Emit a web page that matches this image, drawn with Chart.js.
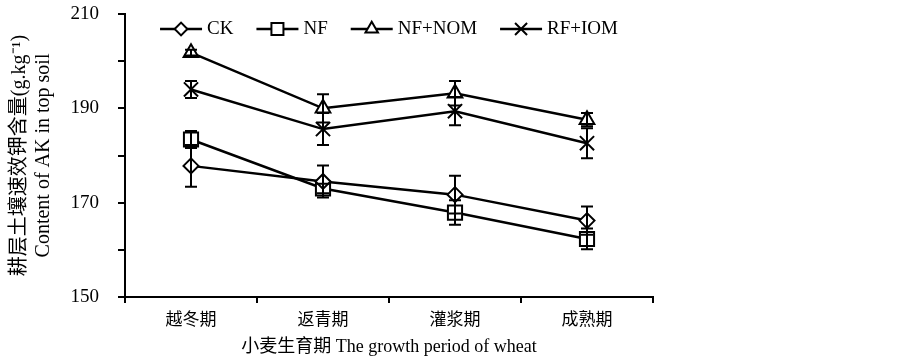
<!DOCTYPE html>
<html>
<head>
<meta charset="utf-8">
<script src="https://cdn.jsdelivr.net/npm/chart.js"></script>
<style>
    html, body { margin: 0; padding: 0; background: #fff; }
    #wrap { width: 903px; height: 362px; position: relative; }
</style>
</head>
<body>
<div id="wrap"><canvas id="akChart"></canvas></div>
<script>
// Growth stages of wheat (x categories)
const stages = ['越冬期', '返青期', '灌浆期', '成熟期'];

// Series values (g.kg-1) and their error bars
const ckValues = [177.8, 174.5, 171.7, 166.2];
const ckErrors = [4.4, 3.4, 4.0, 3.0];
const nfValues = [183.4, 173.0, 167.9, 162.3];
const nfErrors = [1.8, 1.0, 2.6, 2.2];
const nfNomValues = [201.8, 190.0, 193.2, 187.6];
const nfNomErrors = [0.6, 3.0, 2.6, 1.4];
const rfIomValues = [194.0, 185.6, 189.4, 182.6];
const rfIomErrors = [1.8, 3.4, 3.0, 3.2];

// Y axis: ticks every 10, labels only on these
const yLabelTicks = [150, 170, 190, 210];

const serif = "'Liberation Serif', 'Noto Sans CJK SC', serif";

// Build a dataset with the common black line look
function makeSeries(label, values, errors, style, radius) {
    return {
        label: label,
        data: values,
        errors: errors,
        borderColor: '#000',
        borderWidth: 2.5,
        pointStyle: style,
        pointRadius: radius,
        pointHoverRadius: radius,
        pointBorderWidth: 2,
        pointBorderColor: '#000',
        pointBackgroundColor: '#fff',
        tension: 0,
        fill: false
    };
}

// Error bars, drawn through the scales
const errorBars = {
    id: 'errorBars',
    afterDatasetsDraw(chart) {
        const ctx = chart.ctx;
        const yScale = chart.scales.y;
        ctx.save();
        ctx.strokeStyle = '#000';
        ctx.lineWidth = 2;
        chart.data.datasets.forEach((ds, i) => {
            const meta = chart.getDatasetMeta(i);
            meta.data.forEach((pt, j) => {
                const err = ds.errors[j];
                const top = yScale.getPixelForValue(ds.data[j] + err);
                const bottom = yScale.getPixelForValue(ds.data[j] - err);
                const cap = 6;
                ctx.beginPath();
                ctx.moveTo(pt.x, top);
                ctx.lineTo(pt.x, bottom);
                ctx.moveTo(pt.x - cap, top);
                ctx.lineTo(pt.x + cap, top);
                ctx.moveTo(pt.x - cap, bottom);
                ctx.lineTo(pt.x + cap, bottom);
                ctx.stroke();
            });
        });
        ctx.restore();
    }
};

// Legend inside the plot area: short line with marker, then the name
const insideLegend = {
    id: 'insideLegend',
    afterDraw(chart) {
        const ctx = chart.ctx;
        const area = chart.chartArea;
        const lineLen = 42;
        const gap = 5;
        const itemGap = 23;
        const y = area.top + 15;
        ctx.save();
        ctx.font = '19px ' + serif;
        ctx.textBaseline = 'middle';
        ctx.fillStyle = '#000';

        // total width to center the row on the plot area
        let total = 0;
        chart.data.datasets.forEach((ds, i) => {
            total += lineLen + gap + ctx.measureText(ds.label).width;
            if (i > 0) total += itemGap;
        });
        let x = (area.left + area.right) / 2 - total / 2;

        chart.data.datasets.forEach(ds => {
            ctx.strokeStyle = '#000';
            ctx.lineWidth = 2.5;
            ctx.beginPath();
            ctx.moveTo(x, y);
            ctx.lineTo(x + lineLen, y);
            ctx.stroke();

            ctx.fillStyle = '#fff';
            ctx.lineWidth = 2;
            Chart.helpers.drawPoint(ctx, {
                pointStyle: ds.pointStyle,
                radius: ds.pointRadius * 0.85,
                rotation: 0,
                borderWidth: 2
            }, x + lineLen / 2, y);

            ctx.fillStyle = '#000';
            ctx.fillText(ds.label, x + lineLen + gap, y);
            x += lineLen + gap + ctx.measureText(ds.label).width + itemGap;
        });
        ctx.restore();
    }
};

function initializeAkChart() {
    const ctx = document.getElementById('akChart');
    if (!ctx) return;

    new Chart(ctx, {
        type: 'line',
        data: {
            labels: stages,
            datasets: [
                makeSeries('CK', ckValues, ckErrors, 'rectRot', 7.5),
                makeSeries('NF', nfValues, nfErrors, 'rect', 10),
                makeSeries('NF+NOM', nfNomValues, nfNomErrors, 'triangle', 8.5),
                makeSeries('RF+IOM', rfIomValues, rfIomErrors, 'crossRot', 10)
            ]
        },
        options: {
            responsive: true,
            maintainAspectRatio: false,
            animation: false,
            layout: {
                padding: { left: 0, right: 250, top: 14, bottom: 0 }
            },
            plugins: {
                legend: { display: false },
                tooltip: { enabled: false }
            },
            scales: {
                x: {
                    type: 'category',
                    offset: true,
                    grid: {
                        offset: true,
                        drawOnChartArea: false,
                        drawTicks: true,
                        tickLength: 6,
                        color: '#000',
                        lineWidth: 2
                    },
                    border: { display: true, color: '#000', width: 2 },
                    ticks: {
                        color: '#000',
                        font: { family: serif, size: 17 },
                        padding: 7,
                        maxRotation: 0
                    },
                    title: {
                        display: true,
                        text: '小麦生育期 The growth period of wheat',
                        color: '#000',
                        font: { family: serif, size: 18, lineHeight: 1.2 },
                        padding: { top: 0, bottom: 4 }
                    },
                    afterFit: scale => {
                        scale.height = 65;
                        scale.paddingLeft = 0;
                        scale.paddingRight = 0;
                    }
                },
                y: {
                    min: 150,
                    max: 210,
                    grid: {
                        drawOnChartArea: false,
                        drawTicks: true,
                        tickLength: 7,
                        color: '#000',
                        lineWidth: 2
                    },
                    border: { display: true, color: '#000', width: 2 },
                    ticks: {
                        stepSize: 10,
                        color: '#000',
                        font: { family: serif, size: 19 },
                        padding: 19,
                        callback: value => yLabelTicks.includes(value) ? value : ''
                    },
                    title: {
                        display: true,
                        text: ['耕层土壤速效钾含量(g.kg⁻¹)', 'Content of AK in top soil'],
                        color: '#000',
                        font: { family: serif, size: 20, lineHeight: 1.2 },
                        padding: { top: 8, bottom: 0 }
                    },
                    afterFit: scale => {
                        scale.width = 125;
                        scale.paddingTop = 0;
                        scale.paddingBottom = 0;
                    }
                }
            }
        },
        plugins: [errorBars, insideLegend]
    });
}

initializeAkChart();
</script>
</body>
</html>
